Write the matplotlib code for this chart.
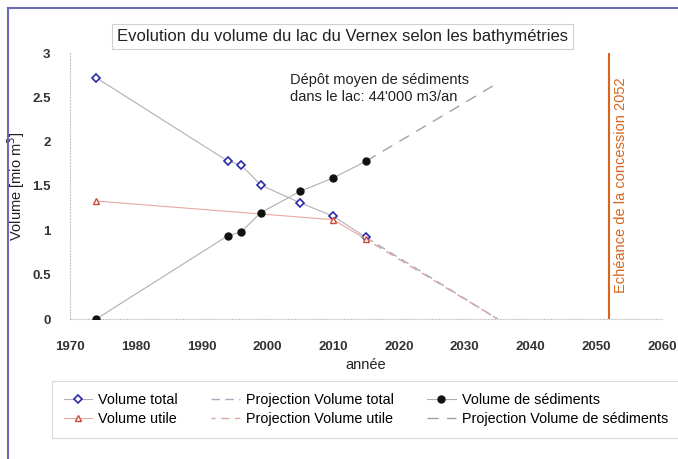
import matplotlib
matplotlib.use("Agg")
import matplotlib.pyplot as plt
from matplotlib.lines import Line2D

# measured surveys
years_total = [1974, 1994, 1996, 1999, 2005, 2010, 2015]
volume_total = [2.72, 1.78, 1.74, 1.51, 1.31, 1.16, 0.92]

years_utile = [1974, 2010, 2015]
volume_utile = [1.33, 1.12, 0.90]

years_sed = [1974, 1994, 1996, 1999, 2005, 2010, 2015]
volume_sed = [0.0, 0.94, 0.98, 1.20, 1.44, 1.59, 1.78]

# projections
proj_years = [2015, 2035]
proj_total = [0.92, 0.0]
proj_utile = [0.90, 0.0]
proj_sed = [1.78, 2.66]

concession_year = 2052

plt.rcParams["font.family"] = ["Liberation Sans", "DejaVu Sans"]

fig = plt.figure(figsize=(6.78, 4.59), dpi=100)
ax = fig.add_axes([70 / 678, 1 - 319 / 459, 592 / 678, 266 / 459])

ax.plot(years_total, volume_total, color="#b0b0b8", lw=0.8, marker="D", ms=4,
        mfc="white", mec="#2a2aa8", mew=1.2, label="Volume total", zorder=3)
ax.plot(years_utile, volume_utile, color="#e8a8a0", lw=0.8, marker="^", ms=4.5,
        mfc="white", mec="#d04a38", mew=1.0, label="Volume utile", zorder=3)
ax.plot(proj_years, proj_total, color="#a8a8c0", lw=1.0, ls=(0, (6, 4)),
        label="Projection Volume total")
ax.plot(proj_years, proj_utile, color="#d8a8a8", lw=1.0, ls=(3, (6, 4)),
        label="Projection Volume utile")
ax.plot(years_sed, volume_sed, color="#b0b0b0", lw=0.8, marker="o", ms=5,
        mfc="#111111", mec="#111111", label="Volume de sédiments", zorder=3)
ax.plot(proj_years, proj_sed, color="#a0a0a8", lw=1.0, ls=(0, (8, 6)),
        label="Projection Volume de sédiments")

ax.axvline(concession_year, color="#d8641e", lw=1.5)
ax.text(concession_year + 1.8, 1.51, "Echéance de la concession 2052", rotation=90,
        color="#d8641e", fontsize=10.5, ha="center", va="center")

ax.text(2003.5, 2.78, "Dépôt moyen de sédiments\ndans le lac: 44'000 m3/an",
        fontsize=10.5, color="#222222", va="top", linespacing=1.3)

ax.set_xlim(1970, 2060)
ax.set_ylim(0, 3)
ax.set_xticks(range(1970, 2061, 10))
ax.set_yticks([0, 0.5, 1, 1.5, 2, 2.5, 3])
ax.set_yticklabels(["0", "0.5", "1", "1.5", "2", "2.5", "3"])
ax.tick_params(length=0, labelsize=9.5, colors="#333333")
ax.tick_params(axis="x", pad=15.5)
ax.tick_params(axis="y", pad=14)
for lab in ax.get_xticklabels() + ax.get_yticklabels():
    lab.set_fontweight("bold")
ax.set_xlabel("année", fontsize=10.5, labelpad=4, color="#222222")
ax.set_ylabel("Volume [mio m$^3$]", fontsize=10.5, color="#222222")
ax.yaxis.set_label_coords(-43 / 592, 0.5)

for side in ["top", "right"]:
    ax.spines[side].set_visible(False)
for side in ["left", "bottom"]:
    ax.spines[side].set_color("#c8c8c8")
    ax.spines[side].set_linestyle(":")
    ax.spines[side].set_linewidth(0.8)

fig.text(0.505, 1 - 36 / 459, "Evolution du volume du lac du Vernex selon les bathymétries",
         fontsize=12, ha="center", va="center", color="#222222",
         bbox=dict(boxstyle="square,pad=0.3", fc="white", ec="#d0d0d0", lw=0.8))

leg = fig.legend(loc="upper left", bbox_to_anchor=(52 / 678, 1 - 381 / 459), ncol=3,
                 fontsize=10.4, frameon=True, fancybox=False, edgecolor="#d0d0d0",
                 handlelength=2.0, columnspacing=2.3, handletextpad=0.4,
                 borderpad=0.8, labelspacing=0.38, borderaxespad=0)
leg.get_frame().set_linewidth(0.8)

# scan frame
fig.add_artist(Line2D([8 / 678, 1], [1 - 8 / 459, 1 - 8 / 459],
                      transform=fig.transFigure, color="#6a6ab8", lw=1.5))
fig.add_artist(Line2D([8 / 678, 8 / 678], [0, 1 - 8 / 459],
                      transform=fig.transFigure, color="#6a6ab8", lw=1.5))

fig.savefig("out.png", dpi=100)
